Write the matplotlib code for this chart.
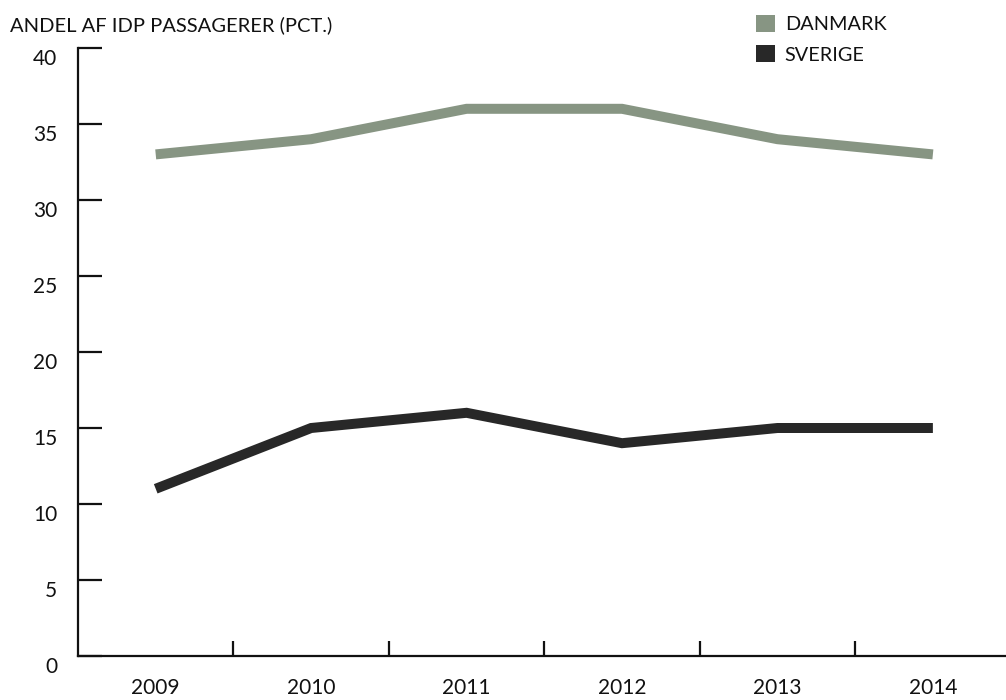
import matplotlib
matplotlib.use("Agg")
import matplotlib.pyplot as plt
from matplotlib.patches import Patch
from matplotlib.transforms import ScaledTranslation

plt.rcParams['font.family'] = ['Lato', 'DejaVu Sans']

years = ['2009', '2010', '2011', '2012', '2013', '2014']
danmark = [33, 34, 36, 36, 34, 33]
sverige = [11, 15, 16, 14, 15, 15]
series_names = ['DANMARK', 'SVERIGE']
colors = ['#879583', '#282828']
yticks = [0, 5, 10, 15, 20, 25, 30, 35, 40]
title = 'ANDEL AF IDP PASSAGERER (PCT.)'

W, H = 1006, 700
fig = plt.figure(figsize=(W / 100, H / 100), dpi=100)
left, right, bottom, top = 78, 1010.6, 656, 48
ax = fig.add_axes([left / W, 1 - bottom / H, (right - left) / W, (bottom - top) / H])

x = list(range(len(years)))
for vals, c, name in zip([danmark, sverige], colors, series_names):
    ax.plot(x, vals, color=c, lw=7.2, solid_capstyle='butt', solid_joinstyle='miter', label=name)

ax.set_xlim(-0.5, len(years) - 0.5)
ax.set_ylim(0, 40)
ax.set_yticks(yticks)
ax.set_yticklabels([str(v) for v in yticks])
ax.set_xticks([i + 0.5 for i in range(len(years) - 1)])
ax.set_xticklabels([])
ax.set_xticks(x, minor=True)
ax.set_xticklabels(years, minor=True)

for s in ['top', 'right']:
    ax.spines[s].set_visible(False)
for s in ['left', 'bottom']:
    ax.spines[s].set_linewidth(1.6)
    ax.spines[s].set_color('#111111')

ax.tick_params(axis='y', direction='in', length=17, width=1.6, color='#111111',
               labelsize=15, pad=15, labelcolor='#111111')
ax.tick_params(axis='x', which='major', direction='in', length=11, width=1.6, color='#111111')
ax.tick_params(axis='x', which='minor', length=0, labelsize=15, pad=16, labelcolor='#111111')

shift = ScaledTranslation(0, -0.09, fig.dpi_scale_trans)
for lab in ax.get_yticklabels():
    lab.set_transform(lab.get_transform() + shift)

fig.text(10 / W, 1 - 25 / H, title, fontsize=14.5, color='#111111', va='center', ha='left')

handles = [Patch(facecolor=c, edgecolor='none') for c in colors]
fig.legend(handles, series_names, loc='upper left', bbox_to_anchor=(756 / W, 1 - 15 / H),
           frameon=False, fontsize=14.3, handlelength=0.95, handleheight=0.95,
           handletextpad=0.5, labelspacing=0.6, borderpad=0, borderaxespad=0,
           labelcolor='#111111')

fig.savefig('out.png', dpi=100)
